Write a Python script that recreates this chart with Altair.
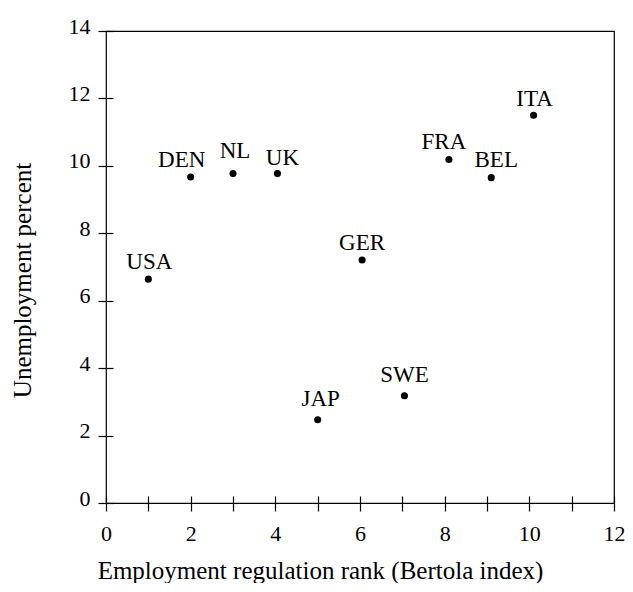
import altair as alt
import pandas as pd

countries = ["USA", "DEN", "NL", "UK", "JAP", "GER", "SWE", "FRA", "BEL", "ITA"]
rank = [1, 2, 3, 4.05, 5, 6.05, 7.05, 8.1, 9.1, 10.1]
unemployment = [6.64, 9.67, 9.77, 9.77, 2.47, 7.21, 3.18, 10.19, 9.65, 11.5]
label_dx = [1, -9, 2, 5, 3, 0, 0, -5, 5, 1]
label_dy = [-17, -17, -23, -16, -21, -17, -21, -17, -18, -16]

x_ticks = list(range(0, 13))
y_ticks = list(range(0, 15))

df = pd.DataFrame({
    "country": countries,
    "rank": rank,
    "unemp": unemployment,
})

FONT = "Liberation Serif"

x_enc = alt.X(
    "rank:Q",
    scale=alt.Scale(domain=[0, 12], nice=False, zero=False),
    axis=alt.Axis(
        values=x_ticks,
        labelExpr="datum.value % 2 == 0 ? datum.label : ''",
        title="Employment regulation rank (Bertola index)",
        offset=-7,
        tickSize=15,
        domain=False,
        grid=False,
        labelPadding=12,
        titlePadding=14,
        titleX=214,
        labelFlush=False,
        labelOverlap=False,
    ),
)
y_enc = alt.Y(
    "unemp:Q",
    scale=alt.Scale(domain=[0, 14], nice=False, zero=False),
    axis=alt.Axis(
        values=y_ticks,
        labelExpr="datum.value % 2 == 0 ? datum.label : ''",
        title="Unemployment percent",
        offset=-7,
        tickSize=15,
        domain=False,
        grid=False,
        labelPadding=8,
        labelBaseline="alphabetic",
        labelOffset=2,
        titlePadding=33,
        titleY=249,
        labelFlush=False,
        labelOverlap=False,
    ),
)

points = alt.Chart(df).mark_circle(size=50, color="black", opacity=1).encode(
    x=x_enc, y=y_enc
)

label_layers = []
for c, ddx, ddy in zip(countries, label_dx, label_dy):
    label_layers.append(
        alt.Chart(df)
        .transform_filter(alt.datum.country == c)
        .mark_text(
            font=FONT, fontSize=23, color="black", baseline="middle",
            align="center", dx=ddx, dy=ddy,
        )
        .encode(x=alt.X("rank:Q"), y=alt.Y("unemp:Q"), text="country:N")
    )

chart = alt.layer(points, *label_layers).properties(
    width=508,
    height=472,
    autosize=alt.AutoSizeParams(type="none"),
    padding={"left": 98, "top": 23, "right": 11, "bottom": 80},
    background="white",
).configure_view(
    stroke="black", strokeWidth=1.2
).configure_axis(
    labelFont=FONT,
    labelFontSize=22,
    labelColor="black",
    titleFont=FONT,
    titleFontSize=25,
    titleFontWeight="normal",
    titleColor="black",
    tickColor="black",
    tickWidth=1.2,
)

chart.save("out.html", embed_options={"renderer": "svg", "actions": False})
